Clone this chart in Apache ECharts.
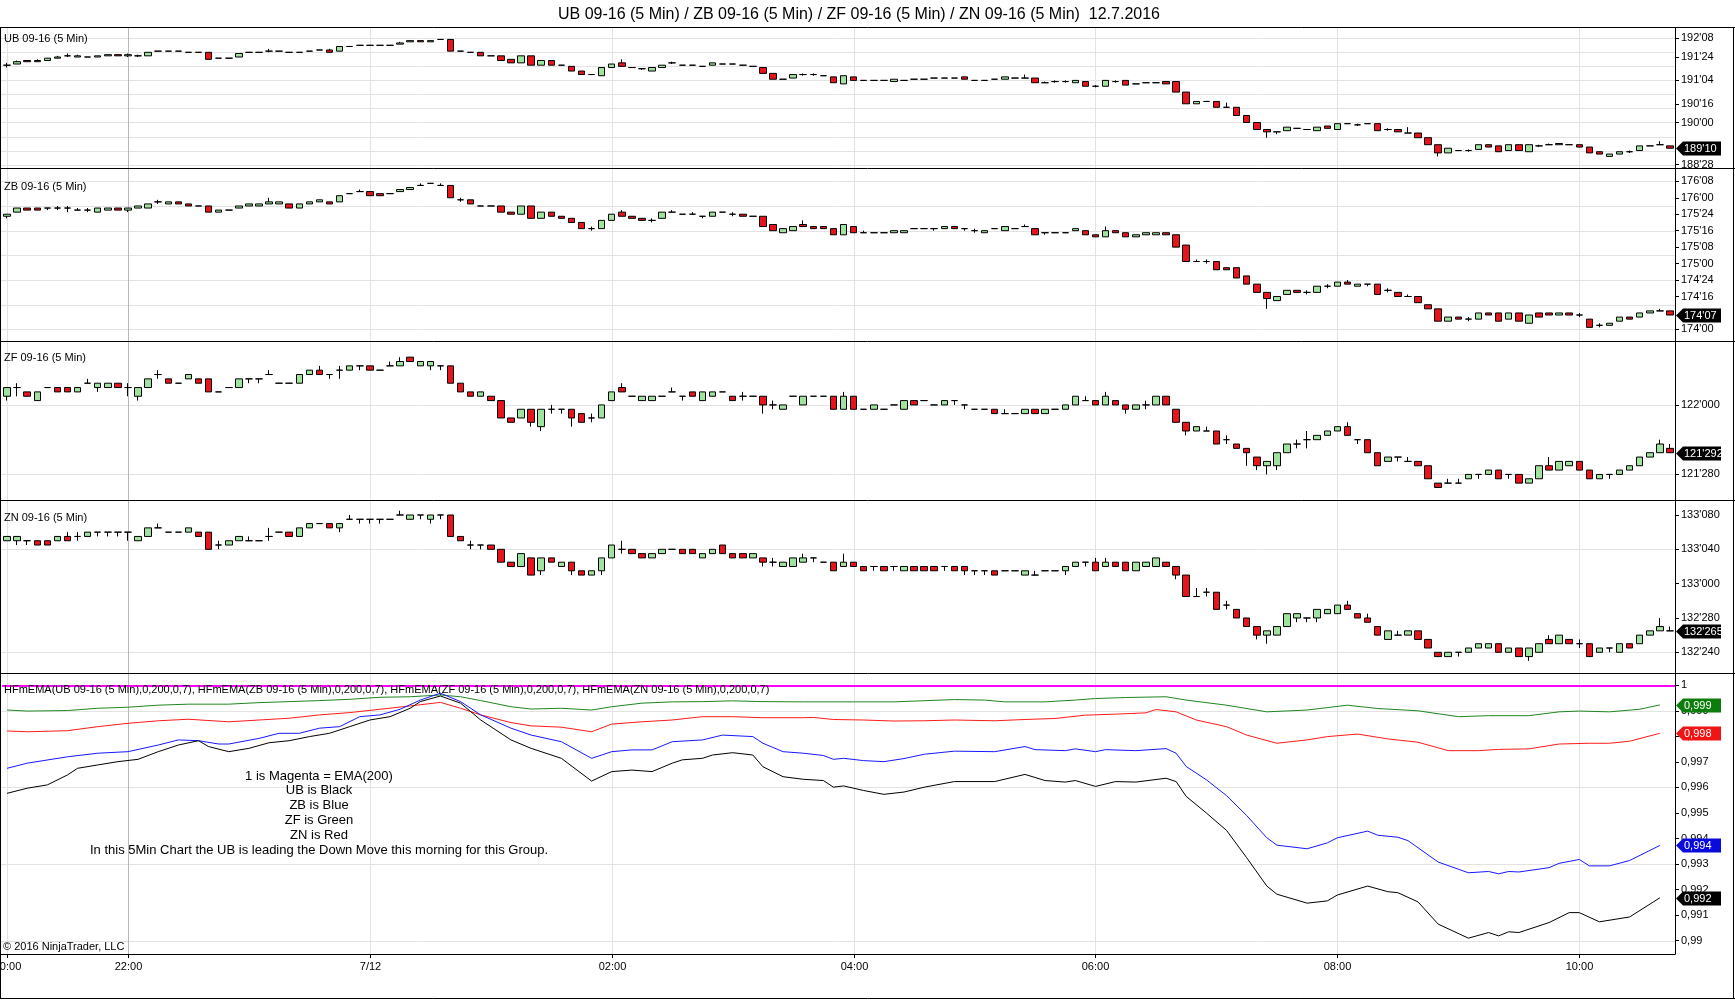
<!DOCTYPE html>
<html>
<head>
<meta charset="utf-8">
<title>UB / ZB / ZF / ZN 5 Min</title>
<script src="https://cdn.jsdelivr.net/npm/echarts@6/dist/echarts.min.js"></script>
<style>
  html, body { margin: 0; padding: 0; background: #fff; }
  #chart { width: 1735px; height: 1000px; }
</style>
</head>
<body>
<div id="chart"></div>
<script>
// ---- texts ----
var TITLE = 'UB 09-16 (5 Min) / ZB 09-16 (5 Min) / ZF 09-16 (5 Min) / ZN 09-16 (5 Min)  12.7.2016';
var PANEL_NAMES = ['UB 09-16 (5 Min)', 'ZB 09-16 (5 Min)', 'ZF 09-16 (5 Min)', 'ZN 09-16 (5 Min)',
  'HFmEMA(UB 09-16 (5 Min),0,200,0,7), HFmEMA(ZB 09-16 (5 Min),0,200,0,7), HFmEMA(ZF 09-16 (5 Min),0,200,0,7), HFmEMA(ZN 09-16 (5 Min),0,200,0,7)'];
var NOTE_LINES = ['1 is Magenta = EMA(200)', 'UB is Black', 'ZB is Blue', 'ZF is Green', 'ZN is Red',
  'In this 5Min Chart the UB is leading the Down Move this morning for this Group.'];
var COPYRIGHT = '\u00a9 2016 NinjaTrader, LLC';

// ---- time axis: session pieces [start, number of 5 min bars] ----
var SESSIONS = [['20:00', 12], ['22:00', 154]];
var SESSION_BREAK = '22:00';
var X_TICK_TIMES = ['20:00', '22:00', '00:00', '02:00', '04:00', '06:00', '08:00', '10:00'];
var X_TICK_TEXT  = ['20:00', '22:00', '7/12', '02:00', '04:00', '06:00', '08:00', '10:00'];

// ---- bars: [open, close, low, high] in ticks above base ----
var UB_BASE = 188, UB_TICK = 1 / 32;
var UB_BARS = [
[113,113,111,115],[114,116,114,117],[117,116,116,117],[116,117,116,118],[117,119,117,119],
[119,120,119,121],[121,121,120,123],[120,121,120,122],[120,120,120,120],[120,121,120,121],
[121,122,121,122],[122,121,121,122],[121,122,120,123],[121,121,120,122],[121,124,121,124],
[125,125,125,125],[125,125,125,125],[125,125,125,125],[124,124,124,124],[124,124,124,124],
[124,118,118,124],[119,119,119,119],[119,119,119,119],[120,123,120,123],[124,124,124,124],
[124,124,124,124],[125,125,124,127],[125,125,125,125],[124,124,124,124],[124,124,124,124],
[125,125,125,125],[126,126,126,126],[126,124,124,127],[125,129,125,129],[129,129,129,129],
[130,130,130,130],[130,130,130,130],[130,130,130,130],[130,130,130,130],[131,132,131,133],
[133,134,133,134],[134,133,133,134],[133,134,133,134],[135,135,135,135],[135,125,125,135],
[125,125,125,125],[124,124,124,124],[124,121,121,124],[121,121,121,121],[121,117,117,121],
[118,115,115,118],[115,121,115,121],[121,113,113,121],[113,117,113,117],[117,113,113,117],
[113,113,113,113],[112,108,108,112],[108,105,105,108],[105,105,105,105],[104,111,104,111],
[111,114,111,114],[115,112,112,118],[111,111,111,111],[110,110,109,110],[108,111,108,111],
[111,113,111,113],[115,115,114,116],[113,113,113,113],[113,113,113,113],[112,112,112,112],
[113,115,113,115],[114,114,114,114],[114,114,114,114],[113,113,113,113],[112,112,112,112],
[111,106,106,111],[106,101,101,106],[101,101,101,101],[102,105,102,105],[105,105,104,106],
[105,105,104,106],[104,104,104,104],[103,98,98,103],[97,104,97,104],[103,100,100,103],
[100,100,100,100],[100,100,100,100],[100,100,100,100],[99,101,99,101],[100,100,100,100],
[101,101,101,101],[101,101,101,101],[102,102,102,102],[102,102,102,102],[102,102,102,102],
[103,101,101,103],[100,100,100,100],[100,100,100,100],[101,101,101,101],[101,103,101,103],
[102,102,102,102],[102,102,102,105],[102,98,98,102],[98,98,98,99],[99,99,98,100],
[99,99,98,100],[98,100,98,100],[99,95,95,99],[95,95,94,96],[95,100,95,100],
[99,99,98,100],[100,96,96,100],[97,97,97,97],[98,98,98,98],[98,98,98,98],
[99,97,97,99],[99,90,90,99],[90,80,80,90],[80,82,80,82],[82,82,82,82],
[82,77,77,82],[77,77,77,81],[77,70,70,77],[70,64,64,70],[64,58,58,64],
[58,56,51,58],[56,56,54,56],[57,60,57,60],[59,59,59,59],[58,58,58,58],
[57,60,57,60],[61,59,59,61],[58,63,58,63],[63,63,63,63],[62,62,61,63],
[63,63,63,63],[63,57,57,63],[58,58,57,59],[58,56,56,58],[55,55,55,60],
[55,51,51,55],[51,45,45,51],[45,38,35,45],[38,42,38,42],[40,40,40,40],
[40,40,39,41],[41,45,41,45],[45,43,43,45],[44,39,39,44],[40,45,40,45],
[45,40,40,45],[39,45,39,45],[44,44,43,45],[45,45,45,46],[45,46,45,46],
[45,45,45,45],[45,43,43,45],[43,38,38,43],[39,37,37,39],[35,37,35,37],
[37,39,37,39],[39,39,38,40],[40,44,40,44],[44,44,44,44],[45,45,45,48],
[44,42,42,44]];

var ZB_BASE = 174, ZB_TICK = 1 / 32;
var ZB_BARS = [
[55,56,54,56],[57,59,57,59],[59,58,58,59],[59,58,58,59],[59,59,58,59],
[59,59,58,60],[59,59,57,60],[58,58,58,59],[58,58,57,59],[57,59,57,59],
[58,59,58,59],[59,58,58,59],[58,59,57,59],[59,60,59,60],[59,61,59,61],
[62,62,61,63],[61,62,61,62],[62,61,61,62],[61,60,60,61],[60,60,60,60],
[60,57,57,60],[57,58,57,58],[58,58,58,58],[59,60,59,60],[60,61,60,61],
[60,61,60,61],[61,62,61,64],[61,62,61,62],[61,59,59,61],[59,61,59,61],
[61,62,61,62],[62,63,62,63],[62,61,61,62],[62,65,62,65],[66,66,66,66],
[67,67,67,68],[67,65,65,67],[66,65,65,66],[66,66,66,66],[67,68,67,68],
[68,69,68,69],[70,70,70,71],[71,71,71,71],[70,70,70,71],[70,64,64,70],
[63,63,62,64],[63,61,61,63],[60,60,60,60],[60,60,60,60],[60,57,57,60],
[57,56,56,57],[56,60,56,60],[60,54,54,60],[54,57,54,57],[57,55,55,57],
[55,54,54,55],[54,52,52,54],[52,49,49,52],[49,49,48,50],[49,53,49,53],
[53,56,53,56],[57,55,55,58],[55,54,54,55],[54,53,53,54],[53,53,52,54],
[54,57,54,57],[57,57,57,58],[56,56,56,56],[56,56,56,57],[55,55,54,55],
[55,57,55,57],[57,57,57,57],[56,56,55,57],[56,55,55,56],[55,55,55,55],
[55,50,50,55],[51,48,48,51],[47,49,47,49],[48,50,48,50],[51,50,50,53],
[50,49,49,50],[50,49,49,50],[49,46,46,49],[46,51,46,51],[50,47,47,50],
[47,47,47,48],[47,47,47,47],[47,47,47,47],[47,48,47,48],[47,48,47,48],
[49,49,49,49],[49,49,49,49],[49,49,48,49],[49,50,49,50],[50,49,49,50],
[49,49,48,49],[48,48,47,49],[47,48,47,48],[49,49,49,49],[48,50,48,50],
[49,49,49,49],[50,50,50,51],[49,46,46,49],[47,47,46,47],[47,47,47,47],
[47,47,47,47],[48,49,48,49],[48,46,46,48],[46,45,45,46],[45,48,45,50],
[48,47,47,48],[47,45,45,47],[45,46,45,46],[46,47,46,47],[46,47,46,47],
[47,46,46,47],[46,40,40,46],[41,33,33,41],[33,33,33,34],[33,33,32,34],
[33,29,29,33],[30,29,29,30],[30,25,25,30],[26,22,22,26],[22,18,18,22],
[18,15,10,18],[14,16,14,16],[17,19,17,19],[19,18,18,19],[18,18,17,19],
[18,21,18,21],[21,21,20,22],[21,23,21,23],[23,22,22,24],[21,22,21,22],
[22,22,21,22],[22,17,17,22],[19,19,18,20],[18,16,16,18],[16,16,16,17],
[16,13,13,16],[12,10,10,12],[10,4,4,10],[4,6,4,6],[6,5,5,6],
[5,5,4,6],[5,8,5,8],[8,7,7,8],[8,4,4,8],[5,8,5,8],
[8,4,4,8],[3,7,3,7],[8,6,6,8],[8,7,7,8],[7,8,7,8],
[8,7,7,8],[7,7,6,8],[5,1,1,5],[2,2,1,3],[2,3,2,3],
[4,6,4,6],[6,5,5,6],[6,8,6,8],[8,9,8,9],[9,9,9,10],
[9,7,7,9]];

var ZF_BASE = 121.75, ZF_TICK = 1 / 128;
var ZF_BARS = [
[34,36,33,36],[36,36,34,37],[35,34,34,35],[33,35,33,35],[36,36,36,36],
[36,35,35,36],[36,35,35,36],[35,36,35,36],[37,37,37,38],[36,37,35,37],
[36,37,36,37],[37,36,36,37],[36,36,34,37],[34,36,33,36],[36,38,36,38],
[39,39,38,40],[38,37,37,38],[37,37,37,37],[38,39,38,39],[38,37,37,38],
[38,35,35,38],[35,35,35,35],[36,36,36,36],[36,38,36,38],[38,38,37,38],
[38,38,37,38],[39,39,39,40],[37,37,37,37],[37,37,37,37],[37,39,37,39],
[39,40,39,40],[40,39,39,41],[39,39,38,39],[40,40,38,41],[40,41,40,41],
[41,41,40,41],[41,40,40,41],[40,40,40,40],[41,41,41,42],[41,42,41,43],
[43,42,42,43],[41,42,41,42],[41,42,40,42],[41,41,40,41],[41,37,37,41],
[37,35,35,37],[35,34,34,35],[34,35,34,35],[34,33,33,34],[33,29,29,33],
[29,28,28,29],[29,31,29,31],[31,28,27,31],[27,31,26,31],[31,31,30,32],
[31,31,30,31],[31,29,27,31],[30,28,28,30],[29,29,28,30],[29,32,29,32],
[33,35,33,35],[36,35,35,37],[34,34,34,34],[33,34,33,34],[33,34,33,34],
[34,34,34,34],[35,35,35,36],[34,34,33,34],[35,34,34,35],[33,35,33,35],
[34,35,34,35],[35,35,35,35],[34,33,33,34],[34,34,33,35],[34,34,34,34],
[34,32,30,34],[32,32,31,33],[31,32,31,32],[34,34,34,34],[32,34,32,34],
[34,34,34,34],[34,34,34,34],[34,31,31,34],[31,34,31,35],[34,31,31,34],
[31,31,31,31],[31,32,31,32],[31,31,31,31],[32,32,32,32],[31,33,31,33],
[33,32,32,33],[33,33,33,33],[32,32,32,32],[32,33,32,33],[33,33,32,33],
[32,32,31,32],[31,31,31,31],[31,31,31,31],[31,30,30,31],[30,30,30,31],
[30,30,30,30],[30,31,30,31],[31,30,30,31],[30,31,30,31],[31,31,31,31],
[31,32,31,32],[32,34,32,34],[33,33,33,34],[33,32,32,33],[32,34,32,35],
[33,32,32,33],[32,31,30,32],[31,32,31,32],[32,32,31,33],[32,34,32,34],
[34,32,32,34],[31,28,28,31],[28,26,25,28],[26,27,26,27],[26,26,26,27],
[26,23,23,26],[24,24,23,25],[23,22,22,23],[22,21,18,22],[20,18,17,20],
[18,19,16,19],[18,21,17,21],[21,23,21,23],[23,23,22,24],[24,24,22,26],
[24,25,24,25],[25,26,25,26],[26,27,26,27],[27,25,25,28],[24,24,23,24],
[24,21,21,24],[21,18,18,21],[19,20,19,20],[20,20,19,20],[19,19,19,20],
[19,18,18,19],[18,15,15,18],[14,13,13,14],[14,14,14,15],[14,14,14,15],
[15,16,15,16],[16,16,15,16],[16,17,16,17],[17,15,15,17],[16,16,15,16],
[16,14,14,16],[14,15,14,15],[15,18,15,18],[18,17,17,20],[17,19,17,19],
[18,19,18,19],[19,17,17,19],[17,15,15,17],[15,16,15,16],[16,16,15,16],
[16,17,16,17],[17,18,17,18],[18,20,18,20],[20,21,20,21],[21,23,21,24],
[22,21,21,23]];

var ZN_BASE = 132.5, ZN_TICK = 1 / 64;
var ZN_BARS = [
[42,43,42,43],[42,43,41,43],[42,42,41,42],[42,41,41,42],[42,41,41,42],
[42,43,42,43],[43,42,42,44],[43,43,42,44],[43,44,43,44],[44,44,43,44],
[44,44,43,44],[44,44,43,44],[44,44,42,44],[42,43,42,43],[43,45,43,45],
[45,45,45,46],[44,44,44,44],[44,44,44,44],[44,45,44,45],[44,43,43,44],
[44,40,40,44],[41,41,40,42],[41,42,41,42],[42,43,42,43],[42,42,42,43],
[42,42,42,42],[43,43,42,45],[44,44,44,44],[44,43,43,44],[43,45,43,45],
[45,46,45,46],[46,46,46,46],[46,45,45,46],[45,46,44,46],[47,47,47,48],
[47,47,46,47],[47,47,46,47],[47,47,46,47],[47,47,47,47],[48,48,48,49],
[47,48,47,48],[48,48,47,48],[47,48,46,48],[48,48,47,48],[48,43,43,48],
[43,42,42,43],[41,41,40,42],[41,41,40,41],[41,40,40,41],[40,37,37,40],
[37,36,36,37],[36,39,36,39],[38,34,34,38],[35,38,34,38],[38,37,37,38],
[36,37,36,37],[37,35,34,37],[35,34,34,35],[34,35,34,35],[35,38,34,38],
[38,41,38,41],[40,40,39,42],[40,39,39,40],[39,38,38,39],[38,39,38,39],
[39,40,39,40],[40,40,40,40],[40,39,39,40],[40,39,39,40],[38,39,38,39],
[39,40,39,40],[41,39,39,41],[39,38,38,39],[39,38,38,39],[38,39,38,39],
[38,37,36,38],[37,37,36,38],[36,37,36,37],[36,38,36,38],[37,38,37,39],
[38,38,37,38],[37,37,37,37],[37,35,35,37],[36,37,36,39],[37,36,36,37],
[36,35,35,36],[36,36,35,36],[36,35,35,36],[36,36,35,36],[35,36,35,36],
[36,35,35,36],[36,35,35,36],[36,35,35,36],[36,36,35,36],[36,35,35,36],
[36,35,34,36],[35,35,34,35],[35,35,34,35],[35,34,34,35],[35,35,35,35],
[35,35,35,35],[34,35,34,35],[34,34,34,35],[35,35,35,35],[35,35,35,35],
[35,36,34,36],[36,37,36,37],[37,37,36,37],[37,35,35,38],[36,37,36,38],
[37,36,36,37],[37,35,35,37],[35,37,35,37],[36,37,36,37],[36,38,36,38],
[37,36,36,37],[36,34,33,36],[34,29,29,34],[29,29,29,31],[30,30,29,31],
[30,26,26,30],[27,27,26,28],[26,24,24,26],[24,22,22,24],[22,20,19,22],
[20,21,18,21],[20,22,20,22],[22,25,22,25],[24,25,23,25],[24,24,23,24],
[24,26,23,26],[25,26,25,26],[25,27,25,27],[27,26,26,28],[25,24,24,25],
[24,23,23,25],[22,20,20,22],[19,21,19,21],[20,20,20,21],[20,21,20,21],
[21,19,19,21],[19,17,17,19],[16,15,15,16],[15,16,15,16],[16,16,15,16],
[16,17,16,17],[17,18,17,18],[17,18,17,18],[18,16,16,18],[16,17,16,17],
[17,15,15,17],[15,17,14,17],[16,18,16,18],[19,18,18,20],[18,20,18,20],
[19,18,18,19],[18,18,17,19],[18,15,15,18],[16,17,16,17],[17,17,16,17],
[16,18,16,18],[18,17,17,18],[18,20,18,20],[20,21,20,21],[21,22,21,24],
[21,21,21,22]];

// ---- HFmEMA ratios, [bar index, value] (indicator has no value on the open bar) ----
var EMA_UB = [[0,.99577],[2,.99597],[4,.99610],[6,.99649],[7,.99675],[9,.99688],[11,.99701],[13,.99710],
[15,.99740],[17,.99766],[19,.99783],[20,.99760],[22,.99740],[24,.99753],[26,.99775],[28,.99783],[30,.99799],
[32,.99812],[34,.99838],[36,.99864],[38,.99877],[40,.99910],[41,.99936],[43,.99958],[45,.99930],[47,.99864],
[50,.99786],[52,.99753],[55,.99714],[58,.99625],[60,.99662],[62,.99668],[64,.99662],[66,.99695],[67,.99708],
[69,.99714],[70,.99727],[72,.99736],[74,.99727],[75,.99681],[77,.99642],[79,.99632],[81,.99627],[82,.99601],
[83,.99606],[85,.99588],[87,.99573],[89,.99582],[91,.99601],[94,.99623],[98,.99623],[101,.99651],[103,.99627],
[105,.99621],[106,.99627],[108,.99604],[110,.99623],[112,.99621],[115,.99636],[116,.99623],[117,.99565],
[119,.99500],[121,.99432],[123,.99325],[125,.99214],[126,.99182],[129,.99147],[131,.99156],[132,.99179],
[135,.99214],[137,.99192],[138,.99188],[140,.99152],[142,.99065],[145,.99010],[147,.99032],[148,.99019],
[149,.99035],[150,.99032],[153,.99071],[155,.99110],[156,.99110],[158,.99074],[161,.99093],[164,.99168]];
var EMA_ZB = [[0,.99675],[2,.99695],[6,.99720],[9,.99734],[12,.99740],[15,.99766],[17,.99786],[19,.99783],
[21,.99770],[22,.99770],[25,.99792],[27,.99812],[29,.99812],[31,.99832],[33,.99838],[35,.99877],[37,.99884],
[39,.99906],[41,.99942],[43,.99969],[45,.99936],[47,.99884],[50,.99832],[52,.99805],[55,.99779],[58,.99714],
[60,.99740],[62,.99747],[64,.99747],[66,.99779],[69,.99786],[71,.99805],[74,.99799],[75,.99773],[77,.99740],
[79,.99734],[81,.99725],[82,.99710],[83,.99714],[85,.99705],[87,.99701],[89,.99713],[91,.99730],[94,.99742],
[98,.99740],[101,.99760],[102,.99748],[105,.99744],[106,.99751],[108,.99740],[109,.99748],[112,.99744],
[115,.99752],[116,.99734],[117,.99682],[119,.99630],[121,.99568],[123,.99490],[125,.99403],[126,.99374],
[129,.99360],[131,.99383],[132,.99403],[135,.99429],[136,.99413],[138,.99405],[139,.99392],[142,.99308],
[145,.99266],[147,.99271],[148,.99262],[149,.99271],[150,.99269],[153,.99286],[154,.99303],[156,.99318],
[157,.99293],[159,.99293],[161,.99314],[164,.99373]];
var EMA_ZF = [[0,.99903],[2,.99899],[6,.99901],[9,.99910],[12,.99914],[15,.99922],[18,.99926],[22,.99926],
[25,.99932],[28,.99936],[31,.99940],[34,.99945],[37,.99953],[40,.99955],[43,.99962],[45,.99955],[47,.99940],
[50,.99916],[52,.99907],[55,.99910],[58,.99903],[60,.99916],[63,.99930],[66,.99935],[69,.99936],[72,.99939],
[75,.99936],[79,.99935],[84,.99935],[88,.99935],[94,.99944],[97,.99942],[99,.99935],[103,.99935],[106,.99942],
[108,.99948],[111,.99952],[115,.99955],[117,.99942],[121,.99922],[125,.99896],[129,.99903],[133,.99922],
[136,.99909],[140,.99900],[144,.99877],[147,.99881],[151,.99881],[154,.99896],[156,.99899],[159,.99896],
[162,.99906],[164,.99923]];
var EMA_ZN = [[0,.99821],[2,.99818],[6,.99822],[9,.99838],[12,.99851],[15,.99861],[18,.99867],[22,.99857],
[25,.99864],[28,.99871],[31,.99884],[34,.99893],[37,.99906],[40,.99919],[43,.99933],[45,.99910],[47,.99884],
[50,.99854],[52,.99841],[55,.99836],[58,.99818],[60,.99848],[63,.99857],[66,.99864],[69,.99877],[72,.99877],
[75,.99873],[79,.99873],[80,.99874],[82,.99866],[85,.99864],[88,.99860],[91,.99861],[94,.99864],[98,.99861],
[101,.99866],[104,.99870],[107,.99883],[110,.99887],[113,.99892],[114,.99905],[116,.99896],[118,.99864],
[121,.99838],[123,.99805],[126,.99773],[129,.99786],[131,.99799],[134,.99809],[137,.99790],[140,.99777],
[143,.99744],[146,.99744],[148,.99749],[151,.99751],[154,.99770],[157,.99773],[159,.99773],[161,.99781],
[164,.99812]];
var EMA_ONE = 1;

// ---- price axes ----
var Y_RANGE = [[188.784, 192.525], [173.824, 176.452], [121.829, 122.115], [132.6746, 133.3046], [0.98948, 1.00048]];
var UB_LABELS = [192.25, 191.75, 191.125, 190.5, 190, 188.875];
var ZB_LABELS = [176.25, 176, 175.75, 175.5, 175.25, 175, 174.75, 174.5, 174];
var ZF_LABELS = [122, 121.875];
var ZN_LABELS = [133.25, 133.125, 133, 132.875, 132.75];
var EMA_LABELS = [1, 0.999, 0.998, 0.997, 0.996, 0.995, 0.994, 0.993, 0.992, 0.991, 0.99];
var UB_GRID = [188.875, 189.25, 189.625, 190, 190.375, 190.75, 191.125, 191.5, 191.875, 192.25];
var ZB_GRID = [174, 174.375, 174.75, 175.125, 175.5, 175.875, 176.25];
var ZF_GRID = [121.875, 122];
var ZN_GRID = [132.75, 133.125];
var EMA_GRID = [0.99, 0.993, 0.996, 0.999];

// ---- layout ----
var FONT = '"Liberation Sans", Arial, sans-serif';
var PANELS = [[28, 140], [168, 173], [341, 159], [500, 173], [673, 281]];
var PLOT_RIGHT = 1675;

// time categories
var cats = [];
SESSIONS.forEach(function (s) {
  var hm = s[0].split(':'), h = +hm[0], m = +hm[1];
  for (var k = 0; k < s[1]; k++) {
    cats.push((h < 10 ? '0' : '') + h + ':' + (m < 10 ? '0' : '') + m);
    m += 5;
    if (m >= 60) { m -= 60; h = (h + 1) % 24; }
  }
});
var tickIdx = X_TICK_TIMES.map(function (t) { return cats.indexOf(t); });

function pad2(n) { return (n < 10 ? '0' : '') + n; }
function fmt32(v) {
  var n = Math.round(v * 32), w = Math.floor(n / 32);
  return w + "'" + pad2(n - w * 32);
}
function fmt128(v) {
  var q = Math.round(v * 128), w = Math.floor(q / 128), r = q - w * 128;
  return w + "'" + pad2(Math.floor(r / 4)) + ['0', '2', '5', '7'][r % 4];
}
function fmtEma(v) { return String(+v.toFixed(3)).replace('.', ','); }

function toPrice(bars, base, tick) {
  return bars.map(function (b) { return b.map(function (t) { return base + t * tick; }); });
}
var PRICE = [toPrice(UB_BARS, UB_BASE, UB_TICK), toPrice(ZB_BARS, ZB_BASE, ZB_TICK),
  toPrice(ZF_BARS, ZF_BASE, ZF_TICK), toPrice(ZN_BARS, ZN_BASE, ZN_TICK)];
var LABELS = [UB_LABELS, ZB_LABELS, ZF_LABELS, ZN_LABELS, EMA_LABELS];
var GRIDV = [UB_GRID, ZB_GRID, ZF_GRID, ZN_GRID, EMA_GRID];
var FMT = [fmt32, fmt32, fmt128, fmt128, fmtEma];

// ---- renderers ----
function hGrid(params, api) {
  var cs = params.coordSys;
  var y = Math.round(api.coord([0, api.value(1)])[1]) + 0.5;
  return { type: 'line', silent: true, shape: { x1: 0, y1: y, x2: cs.x + cs.width, y2: y },
    style: { stroke: '#e3e3e3', lineWidth: 1 } };
}
function vGrid(params, api) {
  var cs = params.coordSys;
  var x = Math.round(api.coord([api.value(0), api.value(1)])[0]) + 0.5;
  return { type: 'line', silent: true, shape: { x1: x, y1: cs.y, x2: x, y2: cs.y + cs.height },
    style: { stroke: api.value(2) ? '#b9b9b9' : '#e3e3e3', lineWidth: 1 } };
}
// time labels under the last panel, centred on their bar
function timeLabel(params, api) {
  var cs = params.coordSys;
  var x = Math.round(api.coord([api.value(0), api.value(1)])[0]) + 0.5;
  var y0 = cs.y + cs.height;
  return { type: 'group', silent: true, children: [
    { type: 'line', shape: { x1: x, y1: y0, x2: x, y2: y0 + 4 }, style: { stroke: '#000', lineWidth: 1 } },
    { type: 'text', style: { x: x, y: y0 + 13, text: X_TICK_TEXT[api.value(2)], fill: '#000',
      font: '11px ' + FONT, align: 'center', verticalAlign: 'middle' } }
  ] };
}
var TAG_FILL = ['#000000', '#0c7d0c', '#f01414', '#0a0adc'];
function tagRenderer(fmt) {
  return function (params, api) {
    var cs = params.coordSys;
    var y = Math.round(api.coord([api.value(0), api.value(1)])[1]);
    var x0 = cs.x + cs.width + 1;
    return { type: 'group', children: [
      { type: 'polygon', shape: { points: [[x0, y + 0.5], [x0 + 7, y - 6.5], [x0 + 45, y - 6.5], [x0 + 45, y + 7.5], [x0 + 7, y + 7.5]] },
        style: { fill: TAG_FILL[api.value(2)] } },
      { type: 'text', style: { x: x0 + 8, y: y + 1, text: fmt(api.value(1)), fill: '#fff',
        font: '11px ' + FONT, verticalAlign: 'middle', align: 'left' } }
    ] };
  };
}

// ---- option ----
var grids = [], xAxes = [], yAxes = [], series = [];
PANELS.forEach(function (p, k) {
  grids.push({ left: 2, right: 1735 - PLOT_RIGHT, top: p[0], height: p[1] });
  var last = k === 4;
  xAxes.push({
    type: 'category', gridIndex: k, data: cats, boundaryGap: true, show: last,
    axisLine: { show: last, lineStyle: { color: '#000' } },
    axisTick: { show: false }, axisLabel: { show: false }, splitLine: { show: false }
  });
  yAxes.push({
    type: 'value', gridIndex: k, position: 'right', min: Y_RANGE[k][0], max: Y_RANGE[k][1],
    axisLine: { show: true, lineStyle: { color: '#000', width: 1 } },
    axisTick: { show: true, length: 4, customValues: LABELS[k], lineStyle: { color: '#000' } },
    axisLabel: { customValues: LABELS[k], formatter: FMT[k], color: '#000', fontSize: 11, fontFamily: FONT, margin: 6 },
    splitLine: { show: false }
  });
  series.push({
    type: 'custom', xAxisIndex: k, yAxisIndex: k, z: 1, silent: true, clip: false,
    renderItem: hGrid, data: GRIDV[k].map(function (v) { return [0, v]; })
  });
  series.push({
    type: 'custom', xAxisIndex: k, yAxisIndex: k, z: 1, silent: true, clip: false,
    renderItem: vGrid,
    data: tickIdx.map(function (i) { return [i, Y_RANGE[k][0], cats[i] === SESSION_BREAK ? 1 : 0]; })
  });
});
series.push({
  type: 'custom', xAxisIndex: 4, yAxisIndex: 4, z: 10, silent: true, clip: false,
  renderItem: timeLabel,
  data: tickIdx.map(function (i, n) { return [i, Y_RANGE[4][0], n]; })
});

PRICE.forEach(function (bars, k) {
  series.push({
    type: 'candlestick', xAxisIndex: k, yAxisIndex: k, z: 3, barWidth: 7, data: bars,
    itemStyle: { color: '#9fe39f', color0: '#e8141c', borderColor: '#000', borderColor0: '#000',
      borderColorDoji: '#000', borderWidth: 1 }
  });
  var lastBar = bars[bars.length - 1];
  series.push({
    type: 'custom', xAxisIndex: k, yAxisIndex: k, z: 10, silent: true, clip: false,
    renderItem: tagRenderer(FMT[k]), data: [[bars.length - 1, lastBar[1], 0]]
  });
});

var EMA_LINES = [[EMA_ZN, '#ff1a1a', 2], [EMA_ZF, '#1f861f', 1], [EMA_ZB, '#1818ff', 3], [EMA_UB, '#000000', 0]];
EMA_LINES.forEach(function (e, n) {
  var s = {
    type: 'line', xAxisIndex: 4, yAxisIndex: 4, z: 4, data: e[0], showSymbol: false, symbol: 'none',
    lineStyle: { color: e[1], width: 1 }, itemStyle: { color: e[1] }
  };
  if (n === 0) {
    s.markLine = { silent: true, symbol: ['none', 'none'], label: { show: false },
      lineStyle: { color: '#ff00ff', width: 2, type: 'solid' }, data: [{ yAxis: EMA_ONE }] };
  }
  series.push(s);
});
series.push({
  type: 'custom', xAxisIndex: 4, yAxisIndex: 4, z: 10, silent: true, clip: false,
  renderItem: tagRenderer(fmtEma),
  data: EMA_LINES.map(function (e) { var p = e[0][e[0].length - 1]; return [p[0], p[1], e[2]]; })
});

// frame, panel captions and note
var graphics = [];
function hline(y, x1, x2) {
  graphics.push({ type: 'line', z: 100, silent: true, shape: { x1: x1, y1: y, x2: x2, y2: y }, style: { stroke: '#000', lineWidth: 1 } });
}
function vline(x, y1, y2) {
  graphics.push({ type: 'line', z: 100, silent: true, shape: { x1: x, y1: y1, x2: x, y2: y2 }, style: { stroke: '#000', lineWidth: 1 } });
}
hline(27.5, 0, 1735); hline(168.5, 0, 1735); hline(341.5, 0, 1735); hline(500.5, 0, 1735); hline(673.5, 0, 1735);
hline(954.5, 0, PLOT_RIGHT); hline(998.5, 0, 1735);
vline(0.5, 27.5, 998.5); vline(1733.5, 27.5, 998.5);
function text(x, y, s, size, align) {
  graphics.push({ type: 'text', z: 101, silent: true, x: x, y: y,
    style: { text: s, fill: '#000', font: size + 'px ' + FONT, align: align || 'left', verticalAlign: 'middle' } });
}
text(859, 15, TITLE, 16, 'center');
var CAPTION_Y = [39, 187, 358, 518, 690];
PANEL_NAMES.forEach(function (s, k) { text(4, CAPTION_Y[k], s, 11); });
NOTE_LINES.forEach(function (s, k) { text(319, 776 + k * 14.8, s, 13, 'center'); });
text(3, 947, COPYRIGHT, 11);

var chart = echarts.init(document.getElementById('chart'), null, { renderer: 'canvas' });
chart.setOption({
  animation: false,
  backgroundColor: '#ffffff',
  textStyle: { fontFamily: FONT },
  grid: grids, xAxis: xAxes, yAxis: yAxes, series: series, graphic: graphics
});
</script>
</body>
</html>
